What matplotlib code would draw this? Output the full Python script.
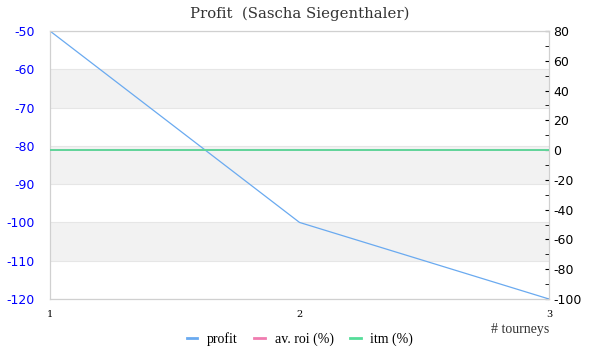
import numpy as np
import matplotlib.pyplot as plt
from matplotlib.lines import Line2D

plt.rcParams["axes.unicode_minus"] = False

# donnees
tourneys = [1, 2, 3]
profit = [-50, -100, -120]
av_roi = [0, 0, 0]
itm = [0, 0, 0]

c_profit = "#6aaaf0"
c_roi = "#f07cb0"
c_itm = "#55dd99"

fig = plt.figure(figsize=(6, 3.6), dpi=100)
ax = fig.add_axes([50 / 600, 61 / 360, 499 / 600, 268 / 360])

# bandes grises
for lo in [-70, -90, -110]:
    ax.axhspan(lo, lo + 10, color="#f2f2f2", zorder=0, lw=0)
for y in np.arange(-120, -49, 10):
    ax.axhline(y, color="#e6e6e6", lw=0.8, zorder=0.5)

ax.plot(tourneys, profit, color=c_profit, lw=0.9, zorder=3)
ax.set_xlim(1, 3)
ax.set_ylim(-120, -50)
ax.set_xticks(tourneys)
ax.set_xticklabels([str(t) for t in tourneys], fontsize=7, family="DejaVu Serif")
ax.set_yticks(np.arange(-120, -49, 10))
ax.tick_params(axis="y", length=0, labelcolor="#0000ff", labelsize=9, pad=11)
ax.tick_params(axis="x", length=0, pad=8)
for lab in ax.get_yticklabels():
    lab.set_family("DejaVu Sans")
for s in ax.spines.values():
    s.set_color("#d0d0d0")

ax2 = ax.twinx()
ax2.plot(tourneys, av_roi, color=c_roi, lw=1.3, zorder=3)
ax2.plot(tourneys, itm, color=c_itm, lw=1.3, zorder=4)
ax2.set_ylim(-100, 80)
ax2.set_yticks(np.arange(-100, 81, 20))
ax2.set_yticks(np.arange(-90, 80, 20), minor=True)
ax2.tick_params(axis="y", which="both", direction="in", length=3, color="black",
                labelsize=9, pad=3)
for lab in ax2.get_yticklabels():
    lab.set_family("DejaVu Sans")
for s in ax2.spines.values():
    s.set_color("#d0d0d0")

fig.text(300 / 600, 1 - 14 / 360, "Profit  (Sascha Siegenthaler)", ha="center", va="center",
         fontsize=10.7, family="DejaVu Serif", color="#333333")
fig.text(549 / 600, 1 - 329 / 360, "# tourneys", ha="right", va="center",
         fontsize=10, family="Liberation Serif", color="#333333")

handles = [Line2D([], [], color=c, lw=2) for c in [c_profit, c_roi, c_itm]]
fig.legend(handles, ["profit", "av. roi (%)", "itm (%)"], loc="center",
           bbox_to_anchor=(0.5, 1 - 339 / 360), ncol=3, frameon=False,
           prop={"family": "Liberation Serif", "size": 10}, handlelength=0.75,
           columnspacing=1.2, handletextpad=0.7)

plt.savefig("out.png", dpi=100)
